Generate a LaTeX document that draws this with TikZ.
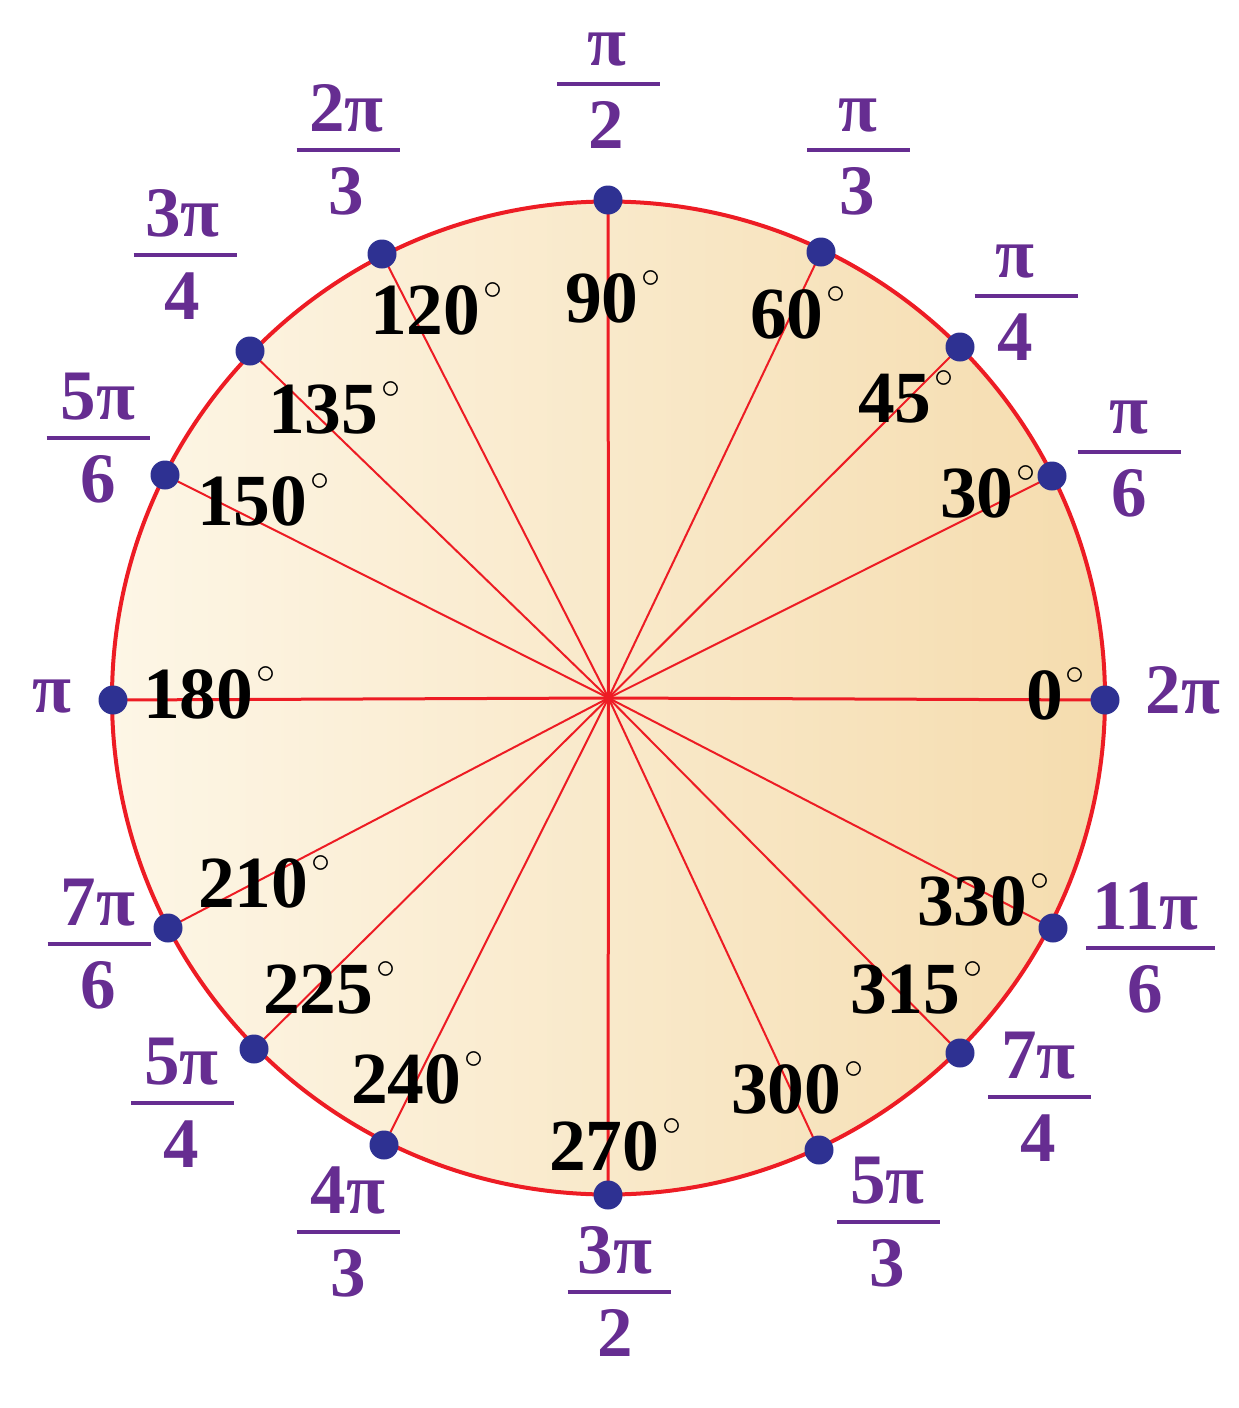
\documentclass[tikz,border=0pt]{standalone}
\usepackage{graphicx}
\usepackage{fontspec}
\setmainfont{Liberation Serif}
\usetikzlibrary{calc}
\definecolor{cred}{HTML}{ED1C24}
\definecolor{cnavy}{HTML}{2E3192}
\definecolor{cpurple}{HTML}{662D91}
\definecolor{fillL}{HTML}{FDF6E6}
\definecolor{fillR}{HTML}{F5DCAE}
\newcommand{\dg}[1]{#1\kern3pt\raisebox{34.5pt}{\scalebox{1.53}{\fontsize{24.88}{24.88}\selectfont\mdseries$\circ$}}}
\newcommand{\fb}[4][0pt]{\vbox{\offinterlineskip
 \hbox to #4{\hskip\dimexpr #4/2+#1\relax\hbox to 0pt{\hss\smash{#2}\hss}\hss}%
 \kern16.5pt
 \hrule height4pt width#4
 \kern62.5pt
 \hbox to #4{\hskip\dimexpr #4/2+#1\relax\hbox to 0pt{\hss\smash{#3}\hss}\hss}}}
\begin{document}
\begin{tikzpicture}[x=1pt,y=-1pt,
  dot/.style={circle,fill=cnavy,inner sep=0pt,minimum size=29pt},
  spoke/.style={cred,line width=2pt},
  axisline/.style={cred,line width=3pt},
  deg/.style={anchor=base west,inner sep=0pt,font=\fontsize{73.5}{73.5}\selectfont\bfseries},
  frac/.style={anchor=base,inner sep=0pt,text=cpurple,font=\fontsize{71}{71}\selectfont\bfseries}]
\useasboundingbox (0,0) rectangle (1239,1408);
\coordinate (O) at (608.5,698);
\fill[left color=fillL,right color=fillR] (O) circle[radius=496.5];
% points on the circle
\coordinate (p0) at (1105,700);
\coordinate (p30) at (1052,476);
\coordinate (p45) at (960,347);
\coordinate (p60) at (821,252);
\coordinate (p90) at (608,200);
\coordinate (p120) at (382,254);
\coordinate (p135) at (250,351);
\coordinate (p150) at (165,475);
\coordinate (p180) at (113,700);
\coordinate (p210) at (168,928);
\coordinate (p225) at (254,1049);
\coordinate (p240) at (384,1145);
\coordinate (p270) at (608,1195);
\coordinate (p300) at (819,1150);
\coordinate (p315) at (960,1053);
\coordinate (p330) at (1053,928);
% spokes
\foreach \p in {p30,p45,p60,p120,p135,p150,p210,p225,p240,p300,p315,p330}
  \draw[spoke] (O) -- (\p);
\foreach \p in {p0,p90,p180,p270}
  \draw[axisline] (O) -- (\p);
\draw[cred,line width=4pt] (O) circle[radius=496.5];
% dots
\foreach \p in {0,30,45,60,90,120,135,150,180,210,225,240,270,300,315,330}
  \node[dot] (d\p) at (p\p) {};
% degree labels
\node[deg] (g0) at (1026,719) {\dg{0}};
\node[deg] (g30) at (940,517) {\dg{30}};
\node[deg] (g45) at (858,422) {\dg{45}};
\node[deg] (g60) at (750,338) {\dg{60}};
\node[deg] (g90) at (565,322) {\dg{90}};
\node[deg] (g120) at (370,334) {\dg{120}};
\node[deg] (g135) at (268,433) {\dg{135}};
\node[deg] (g150) at (197,525) {\dg{150}};
\node[deg] (g180) at (143,718) {\dg{180}};
\node[deg] (g210) at (198,907) {\dg{210}};
\node[deg] (g225) at (263,1013) {\dg{225}};
\node[deg] (g240) at (351,1103) {\dg{240}};
\node[deg] (g270) at (549,1170) {\dg{270}};
\node[deg] (g300) at (731,1113) {\dg{300}};
\node[deg] (g315) at (850,1013) {\dg{315}};
\node[deg] (g330) at (917,925) {\dg{330}};
% radian labels
\node[frac] (f0) at (1183,713) {2π};
\node[frac] (f30) at (1129,516.5) {\fb{π}{6}{103pt}};
\node[frac] (f45) at (1026,360.5) {\fb[-11pt]{π}{4}{103pt}};
\node[frac] (f60) at (858.5,214.5) {\fb[-1pt]{π}{3}{103pt}};
\node[frac] (f90) at (608.5,148.5) {\fb[-2pt]{π}{2}{103pt}};
\node[frac] (f120) at (348,214.5) {\fb[-1.5pt]{2π}{3}{103pt}};
\node[frac] (f135) at (185,319.5) {\fb[-2.5pt]{3π}{4}{103pt}};
\node[frac] (f150) at (98,502.5) {\fb{5π}{6}{103pt}};
\node[frac] (f180) at (52,712) {π};
\node[frac] (f210) at (99,1008.5) {\fb[-1pt]{7π}{6}{103pt}};
\node[frac] (f225) at (182.5,1167.5) {\fb[-1pt]{5π}{4}{103pt}};
\node[frac] (f240) at (348,1296.5) {\fb{4π}{3}{103pt}};
\node[frac] (f270) at (619,1356.5) {\fb[-4pt]{3π}{2}{103pt}};
\node[frac] (f300) at (888.5,1286.5) {\fb[-1pt]{5π}{3}{103pt}};
\node[frac] (f315) at (1039.5,1161.5) {\fb[-1pt]{7π}{4}{103pt}};
\node[frac] (f330) at (1150.5,1012.5) {\fb[-5pt]{11π}{6}{129pt}};
\end{tikzpicture}
\end{document}
